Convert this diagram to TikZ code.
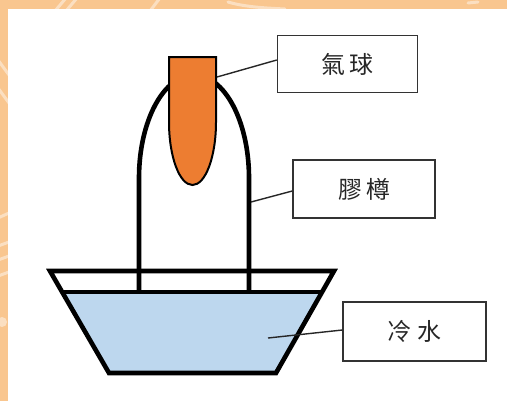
\documentclass[tikz,border=0pt]{standalone}
\usepackage{fontspec}
\newfontfamily\cjk{Noto Sans CJK TC}
\definecolor{frame}{HTML}{F9C68F}
\definecolor{water}{HTML}{BDD7EE}
\definecolor{balloon}{HTML}{ED7D31}
\begin{document}
\begin{tikzpicture}[x=1bp,y=-1bp,
  heavy/.style={line width=4.6bp, line join=miter, line cap=butt},
  labelbox/.style={draw=black!80, line width=1.4bp, fill=white, inner sep=0pt,
    text=black!85, font=\cjk\fontsize{24}{24}\selectfont},
  leader/.style={draw=black!85, line width=1.4bp},
  streak/.style={white, opacity=0.45, line width=3bp, line cap=round}]
\useasboundingbox (0,0) rectangle (507,401);

% page frame with faint brush streaks
\fill[frame] (0,0) rectangle (507,401);
\begin{scope}
  \clip (0,0) rectangle (507,9) (0,0) rectangle (8,401);
  \draw[streak] (55,11) -- (66,-2);
  \draw[streak] (66,11) -- (77,-2);
  \draw[streak] (150,11) -- (160,-2);
  \draw[streak] (228,2) .. controls (245,7) and (265,8) .. (285,9);
  \draw[streak] (468,3) -- (478,2);
  \draw[streak] (-2,60) -- (9,75);
  \draw[streak] (-2,88) -- (9,103);
  \draw[streak] (-2,218) -- (9,213);
  \draw[streak] (-2,246) -- (9,242);
  \draw[streak] (-2,260) -- (9,256);
  \draw[streak] (-2,276) -- (9,272);
  \fill[white, opacity=0.45] (2,322) circle (5bp);
\end{scope}
\fill[white] (8,9) rectangle (507,401);

% cold water in the basin
\fill[water] (62,292) -- (322,292) -- (276,373) -- (109,373) -- cycle;

% bottle: rounded top and two straight sides
\draw[heavy] (139,292) -- (139,178)
  arc[start angle=180, end angle=0, x radius=55bp, y radius=103bp] -- (249,292);

% basin outline and water surface
\draw[heavy] (50,271) -- (334,271) -- (276,373) -- (109,373) -- cycle;
\draw[heavy] (62,292) -- (322,292);

% balloon over the bottle mouth
\draw[fill=balloon, line width=2bp, line join=miter]
  (169,57) -- (169,122)
  arc[start angle=180, end angle=360, x radius=23.5bp, y radius=63bp]
  -- (216,57) -- cycle;

% label boxes
\node[labelbox, minimum width=140bp, minimum height=57bp] (lballoon) at (347.5,64) {氣\hspace{4bp}球};
\node[labelbox, minimum width=142bp, minimum height=58bp] (lbottle) at (364,189) {膠\hspace{4bp}樽};
\node[labelbox, minimum width=143bp, minimum height=59bp] (lwater) at (414.5,331.5) {冷\hspace{6bp}水};

% leader lines
\coordinate (pballoon) at (217,77);
\coordinate (pbottle) at (251,202);
\coordinate (pwater) at (268,338);
\draw[leader] (pballoon) -- ([yshift=4bp]lballoon.west);
\draw[leader] (pbottle) -- ([yshift=-2bp]lbottle.west);
\draw[leader] (pwater) -- ([yshift=1.5bp]lwater.west);
\end{tikzpicture}
\end{document}
